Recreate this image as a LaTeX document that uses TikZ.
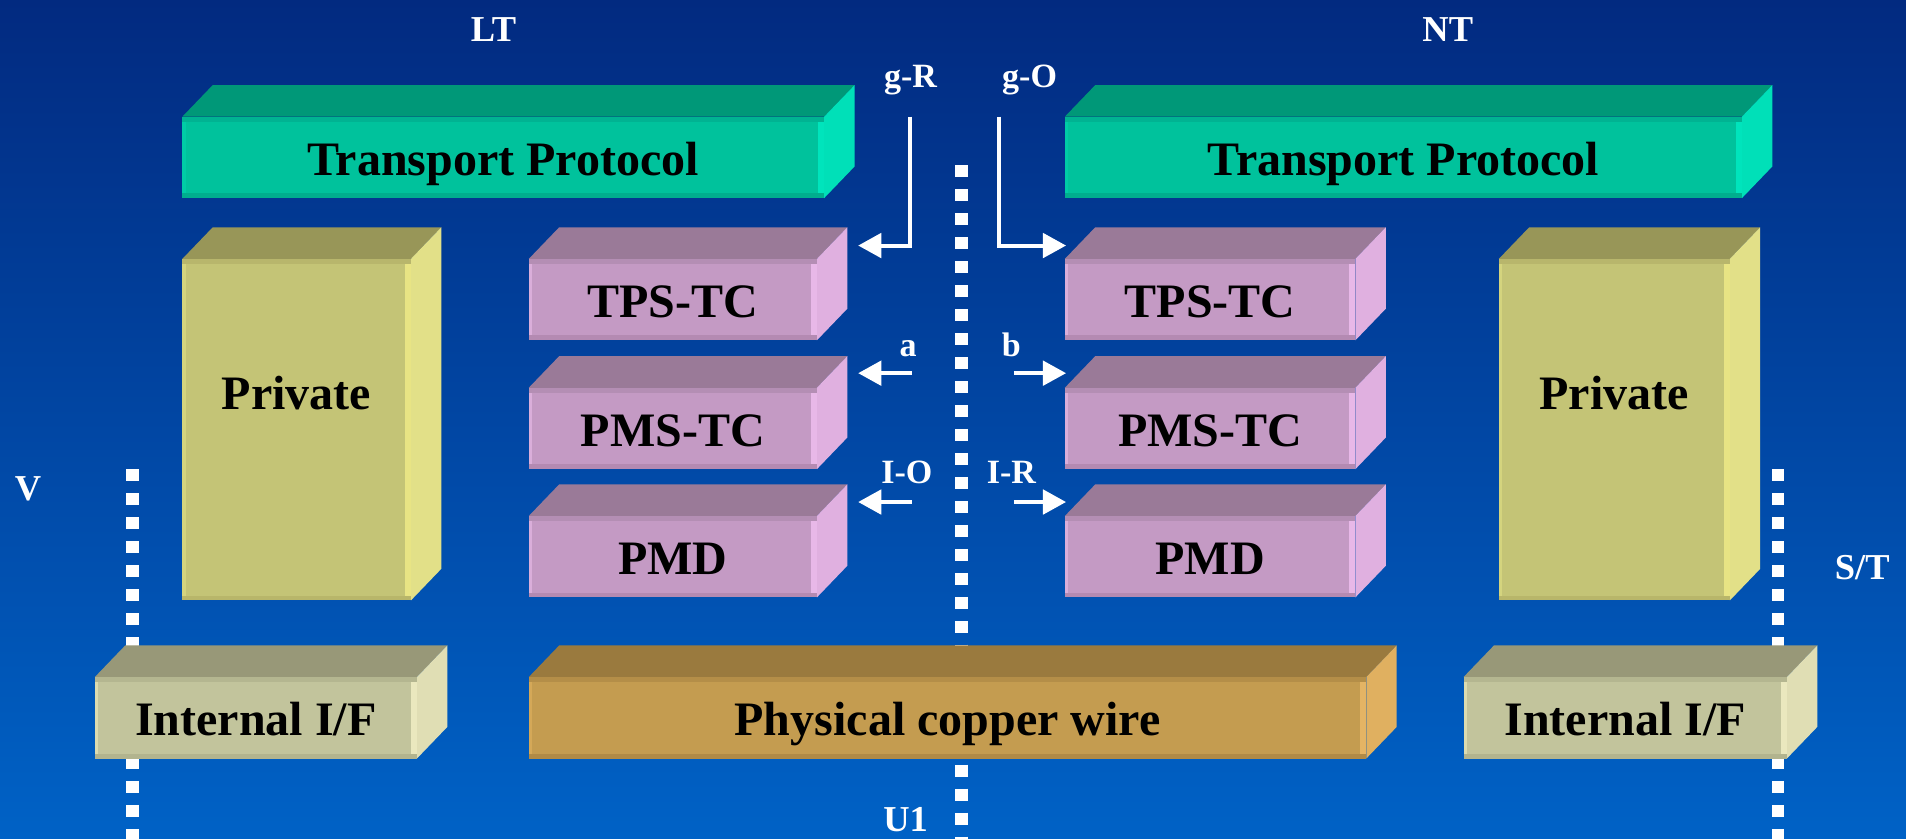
\documentclass[tikz,border=0pt]{standalone}
\usepackage{fontspec}
\setmainfont{Liberation Serif}
\usetikzlibrary{arrows.meta,calc}

\definecolor{bgtop}{HTML}{022A80}
\definecolor{bgbot}{HTML}{0062C6}
% transport protocol
\definecolor{tpfront}{HTML}{00C29C}
\definecolor{tptop}{HTML}{009878}
\definecolor{tpside}{HTML}{00E0B8}
\definecolor{tpls}{HTML}{00CCA6}
\definecolor{tprs}{HTML}{00E4BC}
\definecolor{tpts}{HTML}{00B392}
\definecolor{tpbs}{HTML}{00AE8E}
% private
\definecolor{prfront}{HTML}{C4C476}
\definecolor{prtop}{HTML}{989658}
\definecolor{prside}{HTML}{E2E088}
\definecolor{prls}{HTML}{D4D47E}
\definecolor{prrs}{HTML}{E8E484}
\definecolor{prts}{HTML}{B8B66C}
\definecolor{prbs}{HTML}{B8B66A}
% purple layers
\definecolor{pufront}{HTML}{C49AC4}
\definecolor{putop}{HTML}{9A7A98}
\definecolor{puside}{HTML}{E0B0E0}
\definecolor{puls}{HTML}{DAAEDA}
\definecolor{purs}{HTML}{E8B8E8}
\definecolor{puts}{HTML}{B48EB4}
\definecolor{pubs}{HTML}{B48AB2}
% internal I/F
\definecolor{iffront}{HTML}{C2C49C}
\definecolor{iftop}{HTML}{989878}
\definecolor{ifside}{HTML}{E0DEB4}
\definecolor{ifls}{HTML}{DCDCB0}
\definecolor{ifrs}{HTML}{EAE8BE}
\definecolor{ifts}{HTML}{B4B690}
\definecolor{ifbs}{HTML}{B2B48E}
% copper
\definecolor{cufront}{HTML}{C49C50}
\definecolor{cutop}{HTML}{9A7A3E}
\definecolor{cuside}{HTML}{E0B060}
\definecolor{culs}{HTML}{D4A858}
\definecolor{curs}{HTML}{E4B464}
\definecolor{cuts}{HTML}{B48E48}
\definecolor{cubs}{HTML}{B08A46}

\tikzset{
  face/.style={rectangle, inner sep=0pt, outer sep=0pt, text height=29pt, text depth=0pt,
    font=\fontsize{39.5}{40}\selectfont\bfseries, text=black},
  facetext/.style={inner sep=0pt, text height=29pt, text depth=0pt,
    font=\fontsize{39.5}{40}\selectfont\bfseries, text=black},
  dotline/.style={white, line width=10pt, dash pattern=on 10pt off 9.72pt},
  lbl/.style={text=white, font=\fontsize{30}{30}\selectfont\bfseries, inner sep=0pt, anchor=base},
  slbl/.style={text=white, font=\fontsize{28}{28}\selectfont\bfseries, inner sep=0pt, anchor=base},
  arr/.style={white, line width=3.3pt, line join=miter, -{Triangle[length=19pt,width=20pt]}},
}

\newcommand{\cubeit}[2]{%
  \fill[#2top] (#1.north west) -- ++(25,-26) -- ($(#1.north east)+(25,-26)$) -- (#1.north east) -- cycle;
  \fill[#2side] (#1.north east) -- ++(25,-26) -- ($(#1.south east)+(25,-26)$) -- (#1.south east) -- cycle;
  \fill[#2ls] (#1.north west) rectangle ($(#1.south west)+(3,0)$);
  \fill[#2rs] ($(#1.north east)+(-5,0)$) rectangle (#1.south east);
  \fill[#2ts] (#1.north west) rectangle ($(#1.north east)+(0,4)$);
  \fill[#2bs] ($(#1.south west)+(0,-4)$) rectangle (#1.south east);
}

\begin{document}
\begin{tikzpicture}[x=1pt, y=-1pt]
\useasboundingbox (0,0) rectangle (1568,690);
\shade[top color=bgtop, bottom color=bgbot] (0,0) rectangle (1568,690);

% dotted reference lines
\coordinate (dcTop) at (791,136);
\coordinate (dcBot) at (791,690);
\coordinate (dlTop) at (109,386);
\coordinate (dlBot) at (109,690);
\coordinate (drTop) at (1463,386);
\coordinate (drBot) at (1463,690);
\draw[dotline] (dcTop) -- (dcBot);
\draw[dotline] (dlTop) -- (dlBot);
\draw[dotline] (drTop) -- (drBot);

% Transport protocol
\node[face, fill=tpfront, minimum width=528pt, minimum height=67pt] (tpL) at (414,129.5) {Transport Protocol};
\cubeit{tpL}{tp}
\node[face, fill=tpfront, minimum width=557pt, minimum height=67pt] (tpR) at (1154.5,129.5) {Transport Protocol};
\cubeit{tpR}{tp}

% Private
\node[face, fill=prfront, minimum width=188pt, minimum height=281pt] (prL) at (244,353.5) {};
\cubeit{prL}{pr}
\node[facetext] (prLt) at (244,322) {Private};
\node[face, fill=prfront, minimum width=190pt, minimum height=281pt] (prR) at (1328,353.5) {};
\cubeit{prR}{pr}
\node[facetext] (prRt) at (1328,322) {Private};

% left stack
\node[face, fill=pufront, minimum width=237pt, minimum height=67pt] (tpsL) at (553.5,246.5) {TPS-TC};
\cubeit{tpsL}{pu}
\node[face, fill=pufront, minimum width=237pt, minimum height=67pt] (pmsL) at (553.5,352.5) {PMS-TC};
\cubeit{pmsL}{pu}
\node[face, fill=pufront, minimum width=237pt, minimum height=67pt] (pmdL) at (553.5,458) {PMD};
\cubeit{pmdL}{pu}

% right stack
\node[face, fill=pufront, minimum width=239pt, minimum height=67pt] (tpsR) at (995.5,246.5) {TPS-TC};
\cubeit{tpsR}{pu}
\node[face, fill=pufront, minimum width=239pt, minimum height=67pt] (pmsR) at (995.5,352.5) {PMS-TC};
\cubeit{pmsR}{pu}
\node[face, fill=pufront, minimum width=239pt, minimum height=67pt] (pmdR) at (995.5,458) {PMD};
\cubeit{pmdR}{pu}

% bottom row
\node[face, fill=iffront, minimum width=265pt, minimum height=67pt] (iifL) at (210.5,590.5) {Internal I/F};
\cubeit{iifL}{if}
\node[face, fill=cufront, minimum width=689pt, minimum height=67pt] (cu) at (779.5,590.5) {Physical copper wire};
\cubeit{cu}{cu}
\node[face, fill=iffront, minimum width=266pt, minimum height=67pt] (iifR) at (1337,590.5) {Internal I/F};
\cubeit{iifR}{if}

% arrows
\coordinate (gRs) at (749,96);
\coordinate (gRc) at (749,202);
\coordinate (gRe) at (706,202);
\draw[arr] (gRs) -- (gRc) -- (gRe);
\coordinate (gOs) at (822,96);
\coordinate (gOc) at (822,202);
\coordinate (gOe) at (877,202);
\draw[arr] (gOs) -- (gOc) -- (gOe);
\coordinate (aS) at (750,307);
\coordinate (aE) at (706,307);
\draw[arr] (aS) -- (aE);
\coordinate (bS) at (834,307);
\coordinate (bE) at (877,307);
\draw[arr] (bS) -- (bE);
\coordinate (ioS) at (750,413);
\coordinate (ioE) at (706,413);
\draw[arr] (ioS) -- (ioE);
\coordinate (irS) at (834,413);
\coordinate (irE) at (877,413);
\draw[arr] (irS) -- (irE);

% labels
\node[lbl] (LT) at (406,34) {LT};
\node[lbl] (NT) at (1191,34) {NT};
\node[slbl] (gR) at (749,72) {g-R};
\node[slbl] (gO) at (847,72) {g-O};
\node[slbl] (la) at (747,293) {a};
\node[slbl] (lb) at (832,293) {b};
\node[slbl] (IO) at (746,398) {I-O};
\node[slbl] (IR) at (832,398) {I-R};
\node[lbl] (V) at (23,412) {V};
\node[lbl] (ST) at (1532,477) {S/T};
\node[lbl] (U1) at (745,684) {U1};
\end{tikzpicture}
\end{document}
